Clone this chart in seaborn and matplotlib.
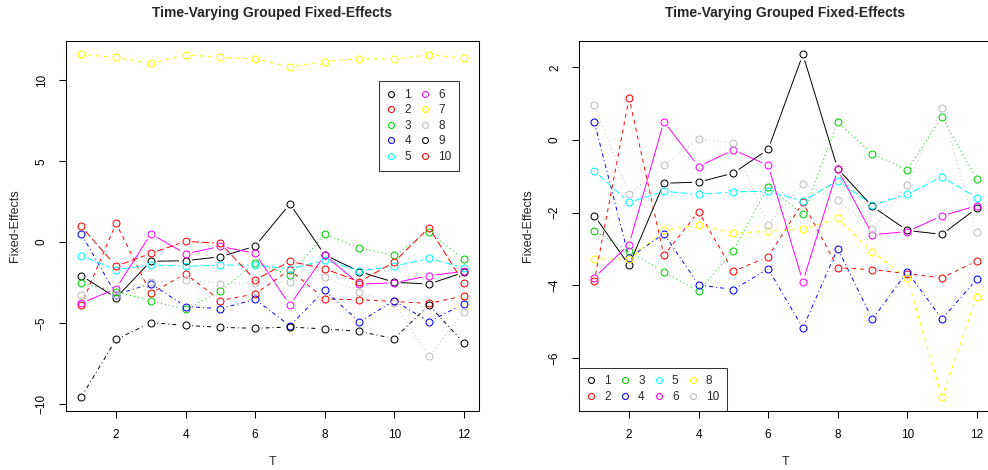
import numpy as np
import pandas as pd
import matplotlib
matplotlib.use("Agg")
import matplotlib.pyplot as plt
from matplotlib.lines import Line2D
import seaborn as sns

sns.set_style("white")
plt.rcParams["font.family"] = ["Liberation Sans", "DejaVu Sans"]
plt.rcParams["lines.scale_dashes"] = False

T = list(range(1, 13))
g1 = [-2.08, -3.45, -1.19, -1.16, -0.91, -0.26, 2.36, -0.79, -1.83, -2.49, -2.60, -1.88]
g2 = [-3.89, 1.16, -3.18, -1.97, -3.62, -3.21, -1.72, -3.52, -3.57, -3.68, -3.80, -3.33]
g3 = [-2.51, -3.07, -3.63, -4.17, -3.05, -1.28, -2.05, 0.49, -0.38, -0.82, 0.63, -1.07]
g4 = [0.50, -3.25, -2.58, -3.99, -4.12, -3.55, -5.18, -2.99, -4.94, -3.63, -4.93, -3.84]
g5 = [-0.85, -1.72, -1.41, -1.50, -1.43, -1.41, -1.68, -1.12, -1.79, -1.50, -1.01, -1.59]
g6 = [-3.79, -2.88, 0.51, -0.73, -0.27, -0.70, -3.90, -0.81, -2.61, -2.52, -2.09, -1.81]
g7 = [11.61, 11.42, 11.05, 11.59, 11.42, 11.34, 10.84, 11.17, 11.34, 11.32, 11.59, 11.38]
g8 = [-3.27, -3.28, -2.49, -2.34, -2.57, -2.51, -2.46, -2.16, -3.08, -3.80, -7.08, -4.32]
g9 = [-9.59, -6.03, -4.99, -5.16, -5.28, -5.34, -5.26, -5.38, -5.53, -5.98, -3.90, -6.23]
g10 = [0.97, -1.50, -0.70, 0.04, -0.08, -2.34, -1.20, -1.65, -2.46, -1.24, 0.89, -2.53]

left_labels = ["1", "2", "3", "4", "5", "6", "7", "8", "9", "10"]
left_series = [g1, g2, g3, g4, g5, g6, g7, g8, g9, g10]
right_labels = ["1", "2", "3", "4", "5", "6", "8", "10"]
right_series = [g1, g2, g3, g4, g5, g6, g8, g10]

title = "Time-Varying Grouped Fixed-Effects"
xlab = "T"
ylab = "Fixed-Effects"
left_yticks = [-10, -5, 0, 5, 10]
right_yticks = [-6, -4, -2, 0, 2]
xticks = [2, 4, 6, 8, 10, 12]

# R default palette and lty cycle
palette = ["#000000", "#FF0000", "#00CD00", "#0000FF", "#00FFFF", "#FF00FF", "#FFFF00", "#BEBEBE"]
px = 0.72
ltys = [
    (0, ()),
    (0, (4 * px, 4 * px)),
    (0, (1 * px, 3 * px)),
    (0, (1 * px, 3 * px, 4 * px, 3 * px)),
    (0, (7 * px, 3 * px)),
]

fig = plt.figure(figsize=(9.88, 4.70), dpi=100)
W, H = 988, 470
axL = fig.add_axes([66 / W, (H - 410.7) / H, 413 / W, 370 / H])
axR = fig.add_axes([579 / W, (H - 410.7) / H, 413 / W, 370 / H])

GAP = 6.5  # px gap around points (R type="b")


def fmt(v):
    return str(v).replace("-", "\u2212")


def draw(ax, labels, series, yticks):
    allv = np.concatenate([np.asarray(s) for s in series])
    lo, hi = allv.min(), allv.max()
    r = hi - lo
    ax.set_xlim(1 - 0.04 * 11, 12 + 0.04 * 11)
    ax.set_ylim(lo - 0.04 * r, hi + 0.04 * r)
    fig.canvas.draw()
    inv = ax.transData.inverted()
    for i, (lab, s) in enumerate(zip(labels, series)):
        col = palette[i % 8]
        ls = ltys[i % 5]
        pts = ax.transData.transform(np.column_stack([T, s]))
        for k in range(len(pts) - 1):
            p0, p1 = pts[k], pts[k + 1]
            d = p1 - p0
            L = np.hypot(*d)
            if L <= 2 * GAP:
                continue
            u = d / L
            q = inv.transform(np.vstack([p0 + u * GAP, p1 - u * GAP]))
            ax.plot(q[:, 0], q[:, 1], color=col, linestyle=ls, lw=0.7,
                    solid_capstyle="butt", dash_capstyle="butt")
        df = pd.DataFrame({"T": T, "v": s})
        sns.lineplot(data=df, x="T", y="v", ax=ax, color=col, marker="o",
                     linestyle="", markerfacecolor="none", markeredgecolor=col,
                     markersize=5.0, markeredgewidth=0.75, legend=False)
    ax.set_xticks(xticks)
    ax.set_yticks(yticks)
    ax.set_yticklabels([fmt(v) for v in yticks], rotation=90, va="center")
    ax.tick_params(axis="both", direction="out", length=5, width=0.75,
                   labelsize=8.5, color="black", labelcolor="black", left=True, bottom=True)
    ax.tick_params(axis="x", pad=8)
    ax.tick_params(axis="y", pad=8)
    for sp in ax.spines.values():
        sp.set_color("black")
        sp.set_linewidth(0.75)
        sp.set_visible(True)
    ax.set_title(title, fontsize=10, fontweight="bold", pad=17)
    ax.set_xlabel(xlab, fontsize=9)
    ax.set_ylabel(ylab, fontsize=9)
    ax.xaxis.set_label_coords(0.5, -0.122)
    ax.yaxis.set_label_coords(-0.11, 0.5)


draw(axL, left_labels, left_series, left_yticks)
draw(axR, right_labels, right_series, right_yticks)

leg_kw = dict(frameon=True, fancybox=False, edgecolor="black", fontsize=8.5,
              handlelength=0.8, handletextpad=0.7, columnspacing=0.8,
              labelspacing=0.3, borderpad=0.65, borderaxespad=0)


def handles(n):
    return [Line2D([], [], linestyle="", marker="o", markerfacecolor="none",
                   markeredgecolor=palette[i % 8], markersize=4.3, markeredgewidth=0.75)
            for i in range(n)]


legL = axL.legend(handles(len(left_labels)), left_labels, ncol=2, loc="upper right",
                  bbox_to_anchor=(0.9516, 0.891), **leg_kw)
legL.get_frame().set_linewidth(0.75)

legR = axR.legend(handles(len(right_labels)), right_labels, ncol=4, loc="lower left",
                  bbox_to_anchor=(0, 0), **leg_kw)
legR.get_frame().set_linewidth(0.75)

fig.savefig("out.png", dpi=100)
